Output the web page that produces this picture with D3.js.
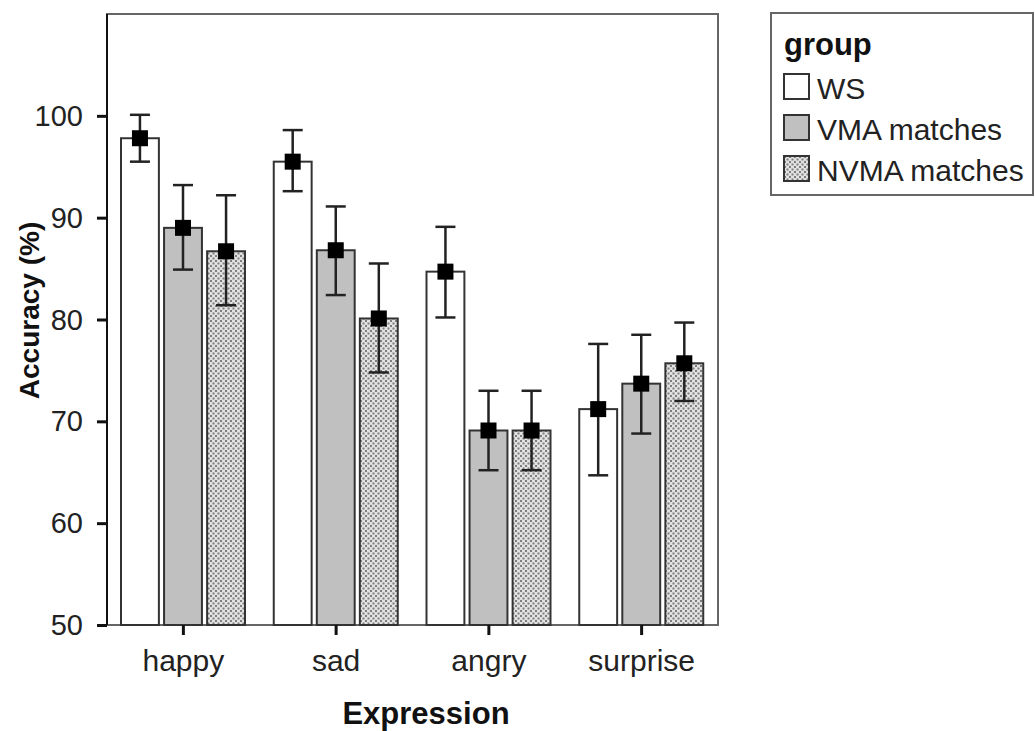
<!DOCTYPE html>
<html>
<head>
<meta charset="utf-8">
<script src="https://cdn.jsdelivr.net/npm/d3@7"></script>
<style>
  html, body { margin: 0; padding: 0; background: #fff; }
  svg { display: block; font-family: Arial, "Liberation Sans", sans-serif; }
</style>
</head>
<body>
<svg id="chart" width="1035" height="731"></svg>
<script>
// Expression categories and participant groups
const categories = ["happy", "sad", "angry", "surprise"];
const groups = ["WS", "VMA matches", "NVMA matches"];

// Mean accuracy (%) per group, in category order
const meanWS   = [97.8, 95.5, 84.7, 71.2];
const meanVMA  = [89.0, 86.8, 69.1, 73.7];
const meanNVMA = [86.7, 80.1, 69.1, 75.7];

// Error bar limits (%)
const lowWS    = [95.5, 92.6, 80.2, 64.7];
const highWS   = [100.1, 98.6, 89.1, 77.6];
const lowVMA   = [84.9, 82.4, 65.2, 68.8];
const highVMA  = [93.2, 91.1, 73.0, 78.5];
const lowNVMA  = [81.4, 74.8, 65.2, 72.0];
const highNVMA = [92.2, 85.5, 73.0, 79.7];

const yTicks = [50, 60, 70, 80, 90, 100];

const seriesMeans = [meanWS, meanVMA, meanNVMA];
const seriesLow = [lowWS, lowVMA, lowNVMA];
const seriesHigh = [highWS, highVMA, highNVMA];

const rows = [];
categories.forEach((c, i) => {
  groups.forEach((g, j) => {
    rows.push({ cat: c, group: g, gi: j, mean: seriesMeans[j][i], lo: seriesLow[j][i], hi: seriesHigh[j][i] });
  });
});

const svg = d3.select("#chart");
const plot = { left: 107, right: 718, top: 14, bottom: 625 };
const FONT = "Arial, 'Liberation Sans', sans-serif";

// Fill patterns
const defs = svg.append("defs");
const pat = defs.append("pattern")
  .attr("id", "dots").attr("patternUnits", "userSpaceOnUse")
  .attr("width", 5).attr("height", 5);
pat.append("rect").attr("width", 5).attr("height", 5).attr("fill", "#e2e2e2");
pat.append("rect").attr("x", 0).attr("y", 0).attr("width", 2).attr("height", 2).attr("fill", "#7d7d7d");
pat.append("rect").attr("x", 2.5).attr("y", 2.5).attr("width", 2).attr("height", 2).attr("fill", "#7d7d7d");

const fills = { "WS": "#ffffff", "VMA matches": "#c0c0c0", "NVMA matches": "url(#dots)" };

const y = d3.scaleLinear().domain([50, 110]).range([plot.bottom, plot.top]);
const x0 = d3.scaleBand().domain(categories).range([plot.left, plot.right]).padding(0);
const x1 = d3.scaleBand().domain(groups).range([14, x0.bandwidth() - 14.75]).paddingInner(0.12);

// Plot frame
svg.append("rect")
  .attr("x", plot.left).attr("y", plot.top)
  .attr("width", plot.right - plot.left).attr("height", plot.bottom - plot.top)
  .attr("fill", "#fff").attr("stroke", "#666").attr("stroke-width", 2);

// Bars
svg.append("g").selectAll("rect.bar").data(rows).join("rect")
  .attr("class", "bar")
  .attr("x", d => x0(d.cat) + x1(d.group))
  .attr("y", d => y(d.mean))
  .attr("width", x1.bandwidth())
  .attr("height", d => y(50) - y(d.mean))
  .attr("fill", d => fills[d.group])
  .attr("stroke", "#333").attr("stroke-width", 2);

// Error bars
const cx = d => x0(d.cat) + x1(d.group) + x1.bandwidth() / 2;
const eb = svg.append("g").attr("stroke", "#222").attr("stroke-width", 2.5);
eb.selectAll("line.v").data(rows).join("line")
  .attr("x1", cx).attr("x2", cx)
  .attr("y1", d => y(d.lo)).attr("y2", d => y(d.hi));
eb.selectAll("line.top").data(rows).join("line")
  .attr("x1", d => cx(d) - 10).attr("x2", d => cx(d) + 10)
  .attr("y1", d => y(d.hi)).attr("y2", d => y(d.hi));
eb.selectAll("line.bot").data(rows).join("line")
  .attr("x1", d => cx(d) - 10).attr("x2", d => cx(d) + 10)
  .attr("y1", d => y(d.lo)).attr("y2", d => y(d.lo));

// Mean markers
svg.append("g").selectAll("rect").data(rows).join("rect")
  .attr("x", d => cx(d) - 8).attr("y", d => y(d.mean) - 8)
  .attr("width", 16).attr("height", 16).attr("fill", "#000");

// Y axis
const yAxis = svg.append("g")
  .attr("transform", `translate(${plot.left},0)`)
  .call(d3.axisLeft(y).tickValues(yTicks).tickSize(10).tickPadding(14).tickFormat(d3.format("d")));
yAxis.select(".domain").attr("stroke", "#111").attr("stroke-width", 2)
  .attr("d", `M0,${plot.top}V${plot.bottom}`);
yAxis.selectAll(".tick line").attr("stroke", "#111").attr("stroke-width", 3);
yAxis.selectAll(".tick text").attr("font-size", 29).attr("fill", "#222")
  .attr("font-family", FONT).attr("dy", "0.33em");

// X axis
const xAxis = svg.append("g")
  .attr("transform", `translate(0,${plot.bottom})`)
  .call(d3.axisBottom(x0).tickSize(10).tickPadding(15));
xAxis.select(".domain").remove();
xAxis.selectAll(".tick line").attr("stroke", "#111").attr("stroke-width", 3);
xAxis.selectAll(".tick text").attr("font-size", 30).attr("fill", "#222")
  .attr("font-family", FONT);

// Axis titles
svg.append("text")
  .attr("transform", `translate(39,${(plot.top + plot.bottom) / 2 - 9}) rotate(-90)`)
  .attr("text-anchor", "middle").attr("font-size", 28).attr("font-weight", "bold")
  .attr("fill", "#111").text("Accuracy (%)");
svg.append("text")
  .attr("x", 426).attr("y", 724)
  .attr("text-anchor", "middle").attr("font-size", 31).attr("font-weight", "bold")
  .attr("fill", "#111").text("Expression");

// Legend
const lg = svg.append("g");
lg.append("rect").attr("x", 771).attr("y", 13).attr("width", 262).attr("height", 182)
  .attr("fill", "#fff").attr("stroke", "#666").attr("stroke-width", 2);
lg.append("text").attr("x", 784).attr("y", 55).attr("font-size", 31).attr("font-weight", "bold")
  .attr("fill", "#111").text("group");
const items = lg.selectAll("g.item").data(groups).join("g")
  .attr("class", "item")
  .attr("transform", (d, i) => `translate(784,${74 + i * 41})`);
items.append("rect").attr("width", 25).attr("height", 25)
  .attr("fill", d => fills[d]).attr("stroke", "#333").attr("stroke-width", 2);
items.append("text").attr("x", 33).attr("y", 25).attr("font-size", 30)
  .attr("fill", "#222").text(d => d);
</script>
</body>
</html>
